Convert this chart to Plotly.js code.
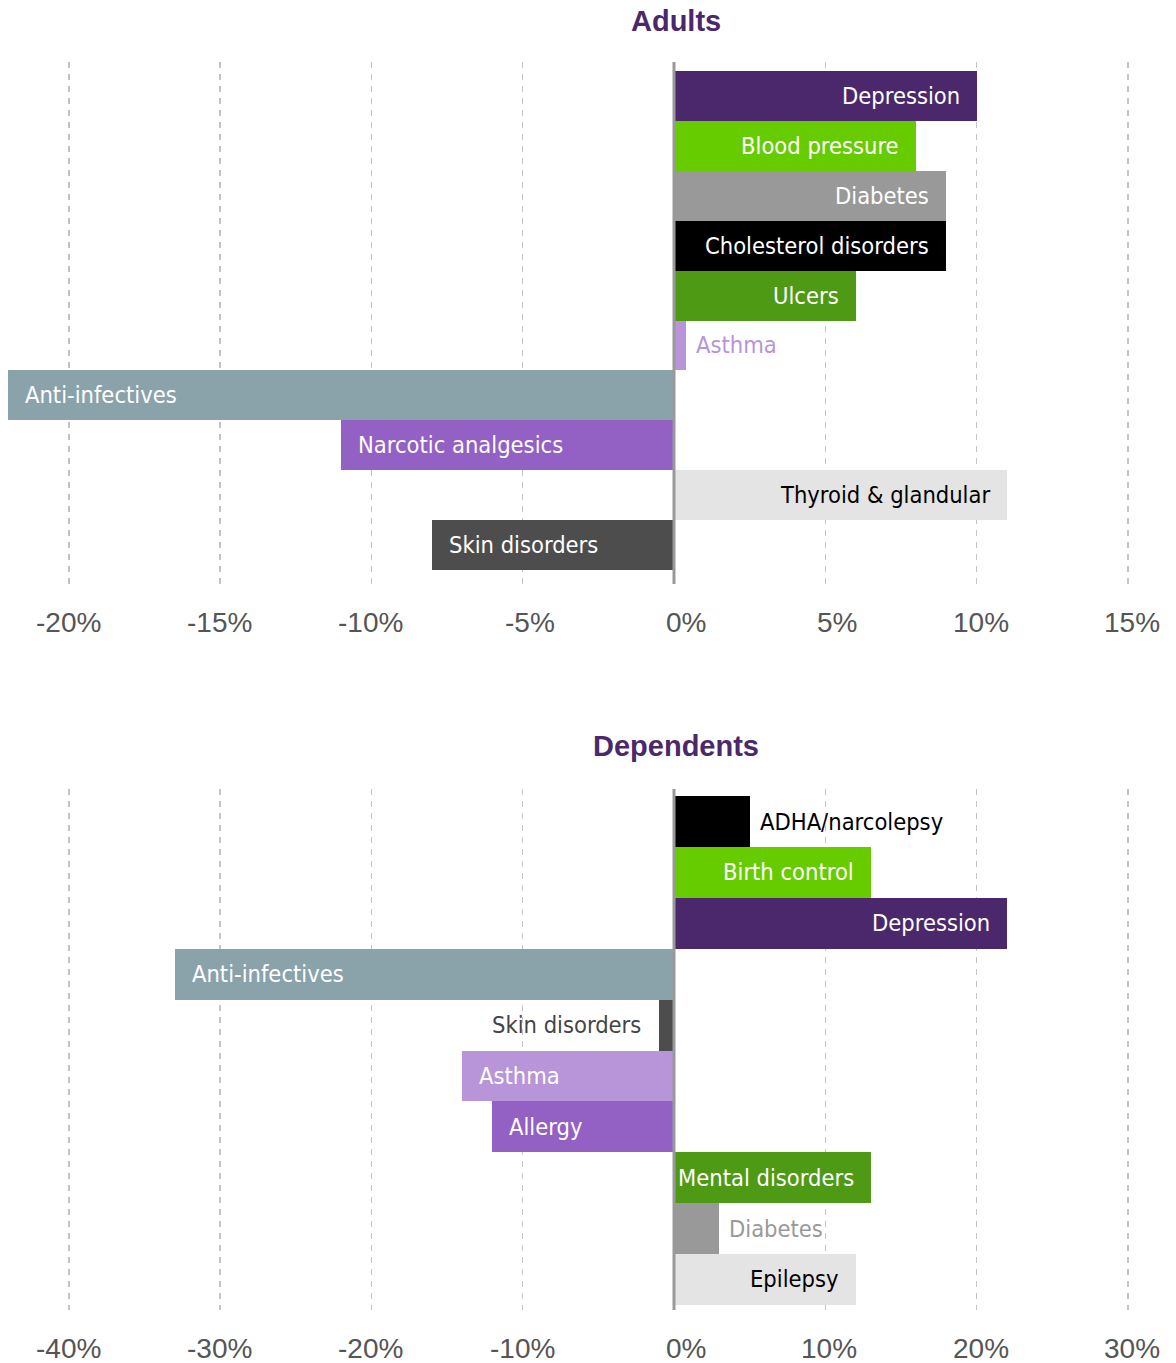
<!DOCTYPE html>
<html>
<head>
<meta charset="utf-8">
<script src="https://cdn.plot.ly/plotly-3.0.1.min.js"></script>
<style>
  html, body { margin: 0; padding: 0; background: #fff; }
  #chart { width: 1176px; height: 1363px; }
</style>
</head>
<body>
<div id="chart"></div>
<script>
// ---- Data ----
const adultCategories = ['Depression', 'Blood pressure', 'Diabetes', 'Cholesterol disorders', 'Ulcers',
  'Asthma', 'Anti-infectives', 'Narcotic analgesics', 'Thyroid & glandular', 'Skin disorders'];
const adultValues = [10, 8, 9, 9, 6, 0.4, -22, -11, 11, -8];

const dependentCategories = ['ADHA/narcolepsy', 'Birth control', 'Depression', 'Anti-infectives', 'Skin disorders',
  'Asthma', 'Allergy', 'Mental disorders', 'Diabetes', 'Epilepsy'];
const dependentValues = [5, 13, 22, -33, -1, -14, -12, 13, 3, 12];

const adultTickValues = [-20, -15, -10, -5, 0, 5, 10, 15];
const adultTickLabels = ['-20%', '-15%', '-10%', '-5%', '0%', '5%', '10%', '15%'];
const dependentTickValues = [-40, -30, -20, -10, 0, 10, 20, 30];
const dependentTickLabels = ['-40%', '-30%', '-20%', '-10%', '0%', '10%', '20%', '30%'];

const titles = ['Adults', 'Dependents'];

// ---- Styles ----
const C = {
  darkPurple: '#4b286b', brightGreen: '#66cc00', gray: '#999999', black: '#000000',
  green: '#4f9a14', lightPurple: '#b894d8', blueGray: '#8aa3ab', purple: '#9360c4',
  lightGray: '#e4e4e4', darkGray: '#4d4d4d'
};
const adultColors = [C.darkPurple, C.brightGreen, C.gray, C.black, C.green, C.lightPurple, C.blueGray, C.purple, C.lightGray, C.darkGray];
const adultInside = [true, true, true, true, true, false, true, true, true, true];
const adultTextColors = ['#fff', '#fff', '#fff', '#fff', '#fff', C.lightPurple, '#fff', '#fff', '#000', '#fff'];

const depColors = [C.black, C.brightGreen, C.darkPurple, C.blueGray, C.darkGray, C.lightPurple, C.purple, C.green, C.gray, C.lightGray];
const depInside = [false, true, true, true, false, true, true, true, false, true];
const depTextColors = ['#000', '#fff', '#fff', '#fff', '#444', '#fff', '#fff', '#fff', C.gray, '#000'];

const H = 1363, W = 1176;
const topDom = [1 - 584 / H, 1 - 62 / H];
const botDom = [1 - 1310 / H, 1 - 789 / H];
const zeroPx = 674;
const pxPerUnitTop = (1128 - 69) / 35;
const pxPerUnitBot = pxPerUnitTop / 2;

const labelFont = 'DejaVu Sans Condensed, DejaVu Sans, sans-serif';
const tickFont = 'Liberation Sans, Arial, Helvetica, sans-serif';

const traces = [
  {
    type: 'bar', orientation: 'h', x: adultValues, y: adultCategories,
    xaxis: 'x', yaxis: 'y', marker: { color: adultColors, line: { width: 0 } },
    hoverinfo: 'skip', showlegend: false
  },
  {
    type: 'bar', orientation: 'h', x: dependentValues, y: dependentCategories,
    xaxis: 'x2', yaxis: 'y2', marker: { color: depColors, line: { width: 0 } },
    hoverinfo: 'skip', showlegend: false
  }
];

const annotations = [];
function barLabels(cats, vals, inside, colors, xr, yr) {
  cats.forEach((c, i) => {
    const v = vals[i];
    let anchor, shift;
    if (inside[i]) {
      anchor = v > 0 ? 'right' : 'left';
      shift = v > 0 ? -15 : 15;
    } else {
      anchor = v > 0 ? 'left' : 'right';
      shift = v > 0 ? 8 : -16;
    }
    annotations.push({
      x: v, y: c, xref: xr, yref: yr, text: c, showarrow: false,
      xanchor: anchor, xshift: shift, yanchor: 'middle',
      font: { family: labelFont, size: 23.5, color: colors[i] }
    });
  });
}
barLabels(adultCategories, adultValues, adultInside, adultTextColors, 'x', 'y');
barLabels(dependentCategories, dependentValues, depInside, depTextColors, 'x2', 'y2');

function tickLabels(vals, labels, xr, dom) {
  vals.forEach((v, i) => {
    annotations.push({
      x: v, y: dom[0], xref: xr, yref: 'paper', text: labels[i], showarrow: false,
      xanchor: 'right', xshift: 34, yanchor: 'middle', yshift: -38,
      font: { family: tickFont, size: 28, color: '#555555' }
    });
  });
}
tickLabels(adultTickValues, adultTickLabels, 'x', topDom);
tickLabels(dependentTickValues, dependentTickLabels, 'x2', botDom);

annotations.push({
  x: 676 / W, y: 1 - 21 / H, xref: 'paper', yref: 'paper', text: titles[0], showarrow: false,
  xanchor: 'center', yanchor: 'middle',
  font: { family: tickFont, size: 29, color: '#4b286b', weight: 'bold' }
});
annotations.push({
  x: 676 / W, y: 1 - 746 / H, xref: 'paper', yref: 'paper', text: titles[1], showarrow: false,
  xanchor: 'center', yanchor: 'middle',
  font: { family: tickFont, size: 29, color: '#4b286b', weight: 'bold' }
});

const xCommon = {
  showgrid: true, gridcolor: '#c4c4c4', gridwidth: 1.5, griddash: '6px,6px',
  zeroline: false, showticklabels: false, ticks: '', showline: false, fixedrange: true
};
const yCommon = {
  type: 'category', showgrid: false, zeroline: false, showticklabels: false,
  ticks: '', showline: false, fixedrange: true
};

const layout = {
  width: W, height: H,
  margin: { l: 0, r: 0, t: 0, b: 0 },
  paper_bgcolor: '#fff', plot_bgcolor: '#fff',
  bargap: 0, showlegend: false,
  xaxis: Object.assign({}, xCommon, {
    domain: [0, 1], anchor: 'y',
    range: [-zeroPx / pxPerUnitTop, (W - zeroPx) / pxPerUnitTop],
    tickvals: adultTickValues
  }),
  yaxis: Object.assign({}, yCommon, { domain: topDom, anchor: 'x', range: [9.78, -0.68] }),
  xaxis2: Object.assign({}, xCommon, {
    domain: [0, 1], anchor: 'y2',
    range: [-zeroPx / pxPerUnitBot, (W - zeroPx) / pxPerUnitBot],
    tickvals: dependentTickValues
  }),
  yaxis2: Object.assign({}, yCommon, { domain: botDom, anchor: 'x2', range: [9.6, -0.64] }),
  shapes: [
    { type: 'line', xref: 'x', yref: 'y domain', x0: 0, x1: 0, y0: 0, y1: 1,
      line: { color: '#999999', width: 3 }, layer: 'above' },
    { type: 'line', xref: 'x2', yref: 'y2 domain', x0: 0, x1: 0, y0: 0, y1: 1,
      line: { color: '#999999', width: 3 }, layer: 'above' }
  ],
  annotations: annotations
};

Plotly.newPlot('chart', traces, layout, { displayModeBar: false, staticPlot: true });
</script>
</body>
</html>
